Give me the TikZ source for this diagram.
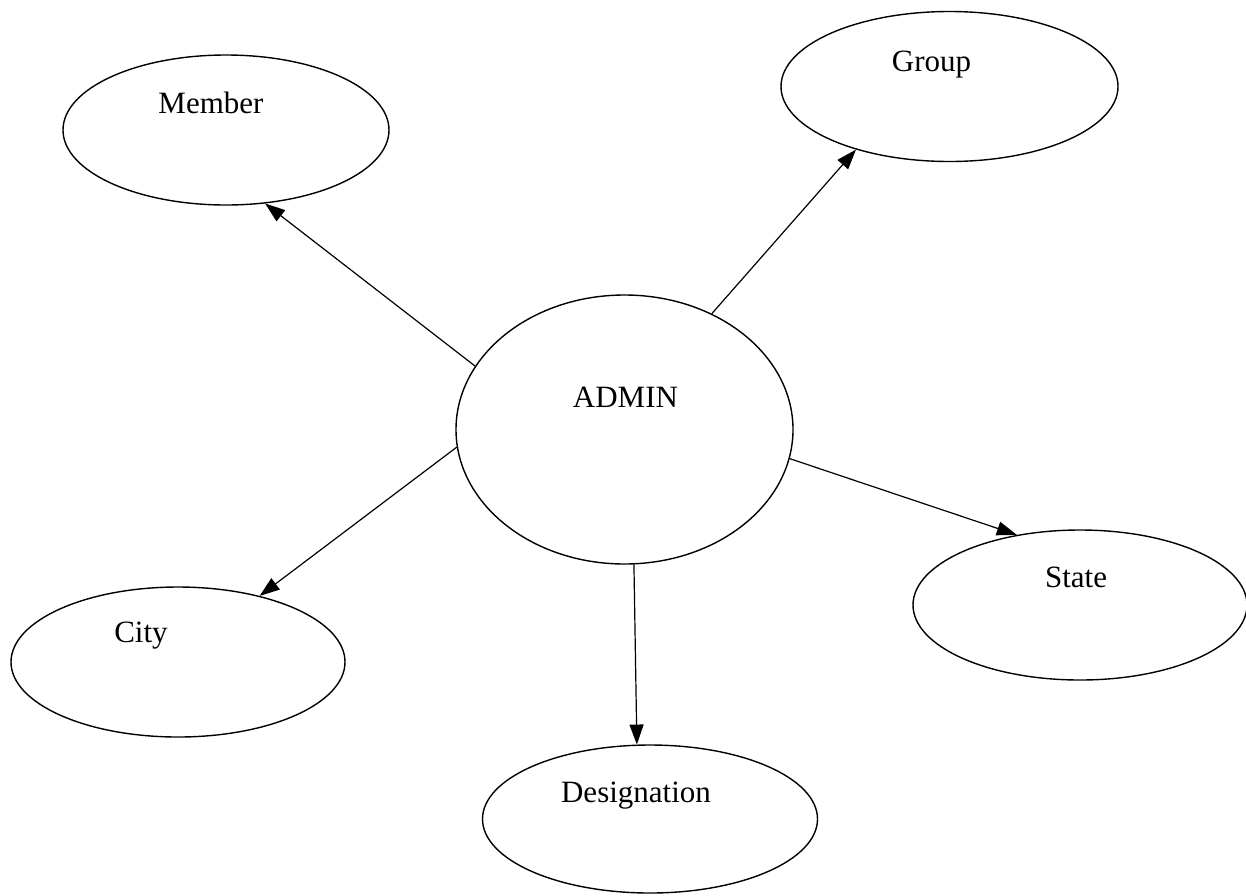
\documentclass[tikz,border=0pt]{standalone}
\usepackage{fontspec}
\setmainfont{Liberation Serif}
\usetikzlibrary{arrows.meta,shapes.geometric}

\begin{document}
\begin{tikzpicture}[x=0.5pt, y=-0.5pt,
    entity/.style={draw, ellipse, line width=0.7pt, minimum width=167pt, minimum height=75pt, inner sep=0pt},
    link/.style={-{Triangle[length=10pt,width=7pt]}, line width=0.6pt},
    every label/.style={font=\fontsize{15.5}{18}\selectfont}]
  \useasboundingbox (0,0) rectangle (1246,895);
  \begin{scope}
    \node[entity, minimum width=168.5pt, minimum height=134.5pt,
      label={[xshift=0.5pt, yshift=16pt]center:ADMIN}] (admin) at (624.5,429.5) {};

    \node[entity, minimum width=163pt,
      label={[xshift=-7.5pt, yshift=13.5pt]center:Member}] (member) at (226,130) {};
    \node[entity, minimum width=168.5pt,
      label={[xshift=-9pt, yshift=11pt]center:Group}] (group) at (949.5,86.5) {};
    \node[entity,
      label={[xshift=-18.5pt, yshift=13pt]center:City}] (city) at (178,662) {};
    \node[entity,
      label={[xshift=-2pt, yshift=14pt]center:State}] (state) at (1080,605) {};
    \node[entity, minimum width=167.5pt, minimum height=74pt,
      label={[xshift=-7pt, yshift=11.5pt]center:Designation}] (desig) at (650,819) {};

    \draw[link] (admin.157.6) -- (member.-62);
    \draw[link] (admin.53.7) -- (group.-146.6);
    \draw[link] (admin.186.9) -- (city.39.9);
    \draw[link] (admin.-10.4) -- (state.132);
    \draw[link] (admin.-86.7) -- (desig.100.7);
  \end{scope}
\end{tikzpicture}
\end{document}
